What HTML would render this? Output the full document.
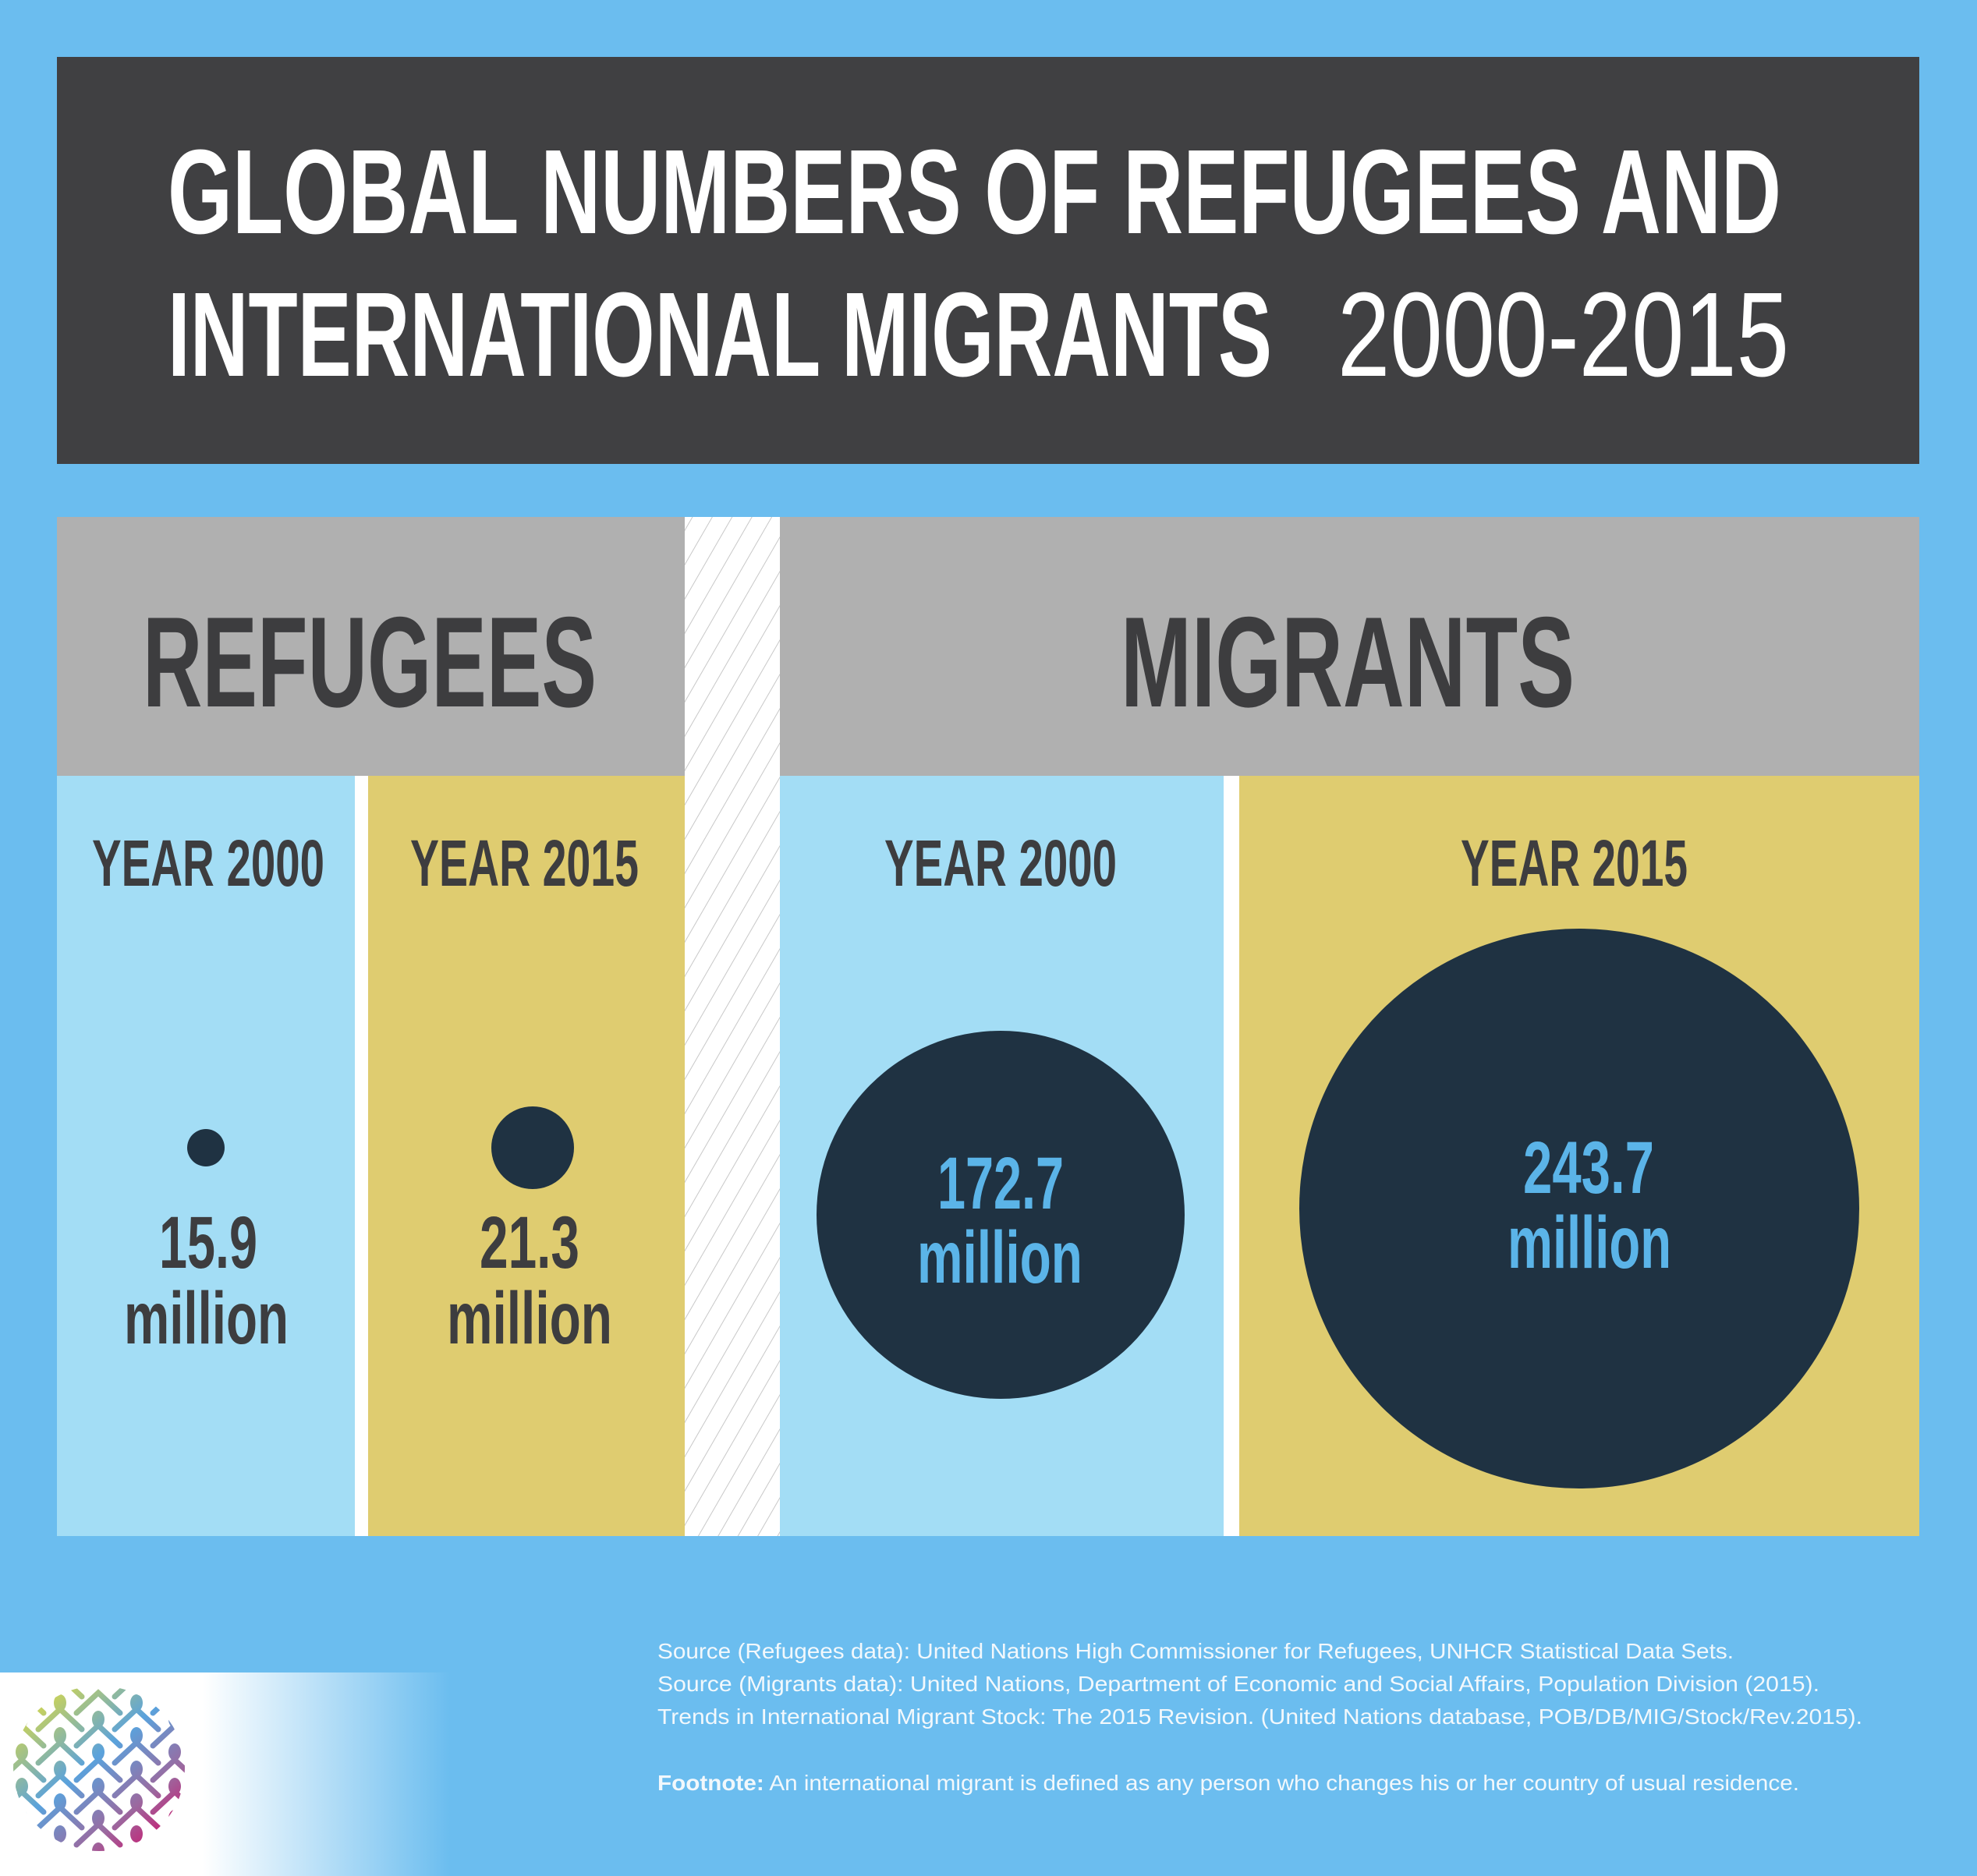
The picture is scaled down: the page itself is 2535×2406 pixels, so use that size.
<!DOCTYPE html>
<html><head><meta charset="utf-8"><style>html,body{margin:0;padding:0;background:#6BBDEF}svg{display:block}</style></head>
<body>
<svg width="2535" height="2406" viewBox="0 0 2535 2406" xmlns="http://www.w3.org/2000/svg" font-family="Liberation Sans, sans-serif">
<defs>
<pattern id="h" width="22" height="22" patternUnits="userSpaceOnUse" patternTransform="rotate(30)">
<rect width="22" height="22" fill="#fff"/><line x1="0" y1="0" x2="0" y2="22" stroke="#c8c8c8" stroke-width="2"/>
</pattern>
<linearGradient id="fade" x1="0" x2="1" y1="0" y2="0">
<stop offset="0" stop-color="#fff"/><stop offset="0.45" stop-color="#fff"/><stop offset="1" stop-color="#6BBDEF"/>
</linearGradient>
<linearGradient id="lg" gradientUnits="userSpaceOnUse" x1="40" y1="2170" x2="210" y2="2370">
<stop offset="0" stop-color="#e0dc40"/><stop offset="0.45" stop-color="#5aa2dc"/><stop offset="0.75" stop-color="#9a6aa0"/><stop offset="1" stop-color="#d0106a"/>
</linearGradient>
<clipPath id="cp"><ellipse cx="127" cy="2268" rx="110" ry="106"/></clipPath>
<g id="p"><ellipse cx="0" cy="0" rx="8" ry="11"/><path d="M-28 -8 L0 -34 L28 -8" fill="none" stroke="#fff" stroke-width="7" stroke-linecap="round"/></g>
<mask id="m" maskUnits="userSpaceOnUse" x="0" y="2140" width="300" height="260">
<g clip-path="url(#cp)" fill="#fff">
<use href="#p" x="77" y="2184"/><use href="#p" x="175" y="2184"/>
<use href="#p" x="28" y="2205"/><use href="#p" x="126" y="2205"/><use href="#p" x="224" y="2205"/>
<use href="#p" x="77" y="2226"/><use href="#p" x="175" y="2226"/>
<use href="#p" x="28" y="2247"/><use href="#p" x="126" y="2247"/><use href="#p" x="224" y="2247"/>
<use href="#p" x="77" y="2269"/><use href="#p" x="175" y="2269"/>
<use href="#p" x="28" y="2291"/><use href="#p" x="126" y="2291"/><use href="#p" x="224" y="2291"/>
<use href="#p" x="77" y="2311"/><use href="#p" x="175" y="2311"/>
<use href="#p" x="28" y="2332"/><use href="#p" x="126" y="2332"/><use href="#p" x="224" y="2332"/>
<use href="#p" x="77" y="2352"/><use href="#p" x="175" y="2352"/>
<use href="#p" x="126" y="2374"/>
</g>
</mask>
</defs>
<rect width="2535" height="2406" fill="#6BBDEF"/>
<rect x="73" y="73" width="2388" height="522" fill="#404042"/>
<g fill="#fff" font-weight="bold">
<text x="215" y="299" font-size="154" textLength="2069" lengthAdjust="spacingAndGlyphs">GLOBAL NUMBERS OF REFUGEES AND</text>
<text x="215" y="482" font-size="154" textLength="1416" lengthAdjust="spacingAndGlyphs">INTERNATIONAL MIGRANTS</text>
</g>
<text x="1715" y="482" font-size="154" fill="#fff" textLength="579" lengthAdjust="spacingAndGlyphs">2000-2015</text>

<rect x="73" y="663" width="805" height="332" fill="#B0B0B0"/>
<rect x="1000" y="663" width="1461" height="332" fill="#B0B0B0"/>
<rect x="878" y="663" width="122" height="1307" fill="url(#h)"/>
<rect x="73" y="995" width="382" height="975" fill="#A3DDF5"/>
<rect x="455" y="995" width="17" height="975" fill="#fff"/>
<rect x="472" y="995" width="406" height="975" fill="#DFCC70"/>
<rect x="1000" y="995" width="569" height="975" fill="#A3DDF5"/>
<rect x="1569" y="995" width="20" height="975" fill="#fff"/>
<rect x="1589" y="995" width="872" height="975" fill="#DFCC70"/>

<g fill="#3d3d3f" font-weight="bold">
<text x="183" y="906" font-size="165" textLength="582" lengthAdjust="spacingAndGlyphs">REFUGEES</text>
<text x="1437" y="906" font-size="165" textLength="582" lengthAdjust="spacingAndGlyphs">MIGRANTS</text>
<text x="118" y="1136" font-size="84" textLength="298" lengthAdjust="spacingAndGlyphs">YEAR 2000</text>
<text x="526" y="1136" font-size="84" textLength="293" lengthAdjust="spacingAndGlyphs">YEAR 2015</text>
<text x="1134" y="1136" font-size="84" textLength="298" lengthAdjust="spacingAndGlyphs">YEAR 2000</text>
<text x="1873" y="1136" font-size="84" textLength="291" lengthAdjust="spacingAndGlyphs">YEAR 2015</text>
<text x="204" y="1626" font-size="95" textLength="126" lengthAdjust="spacingAndGlyphs">15.9</text>
<text x="159" y="1723" font-size="95" textLength="211" lengthAdjust="spacingAndGlyphs">million</text>
<text x="615" y="1626" font-size="95" textLength="128" lengthAdjust="spacingAndGlyphs">21.3</text>
<text x="573" y="1723" font-size="95" textLength="212" lengthAdjust="spacingAndGlyphs">million</text>
</g>
<circle cx="264" cy="1472" r="24" fill="#1F3242"/>
<circle cx="683" cy="1472" r="53" fill="#1F3242"/>
<circle cx="1283" cy="1558" r="236" fill="#1F3242"/>
<circle cx="2025" cy="1550" r="359" fill="#1F3242"/>
<g fill="#5BB4E8" font-weight="bold">
<text x="1202" y="1550" font-size="95" textLength="162" lengthAdjust="spacingAndGlyphs">172.7</text>
<text x="1176" y="1645" font-size="95" textLength="212" lengthAdjust="spacingAndGlyphs">million</text>
<text x="1953" y="1530" font-size="95" textLength="168" lengthAdjust="spacingAndGlyphs">243.7</text>
<text x="1933" y="1626" font-size="95" textLength="210" lengthAdjust="spacingAndGlyphs">million</text>
</g>

<rect x="0" y="2145" width="577" height="261" fill="url(#fade)"/>
<rect x="0" y="2140" width="300" height="260" fill="url(#lg)" mask="url(#m)"/>

<g fill="#f2f8fc" font-size="27.5">
<text x="843" y="2127" textLength="1380" lengthAdjust="spacingAndGlyphs">Source (Refugees data): United Nations High Commissioner for Refugees, UNHCR Statistical Data Sets.</text>
<text x="843" y="2169" textLength="1490" lengthAdjust="spacingAndGlyphs">Source (Migrants data): United Nations, Department of Economic and Social Affairs, Population Division (2015).</text>
<text x="843" y="2211" textLength="1545" lengthAdjust="spacingAndGlyphs">Trends in International Migrant Stock: The 2015 Revision. (United Nations database, POB/DB/MIG/Stock/Rev.2015).</text>
<text x="843" y="2296" textLength="1464" lengthAdjust="spacingAndGlyphs"><tspan font-weight="bold">Footnote:</tspan> An international migrant is defined as any person who changes his or her country of usual residence.</text>
</g>
</svg>
</body></html>
